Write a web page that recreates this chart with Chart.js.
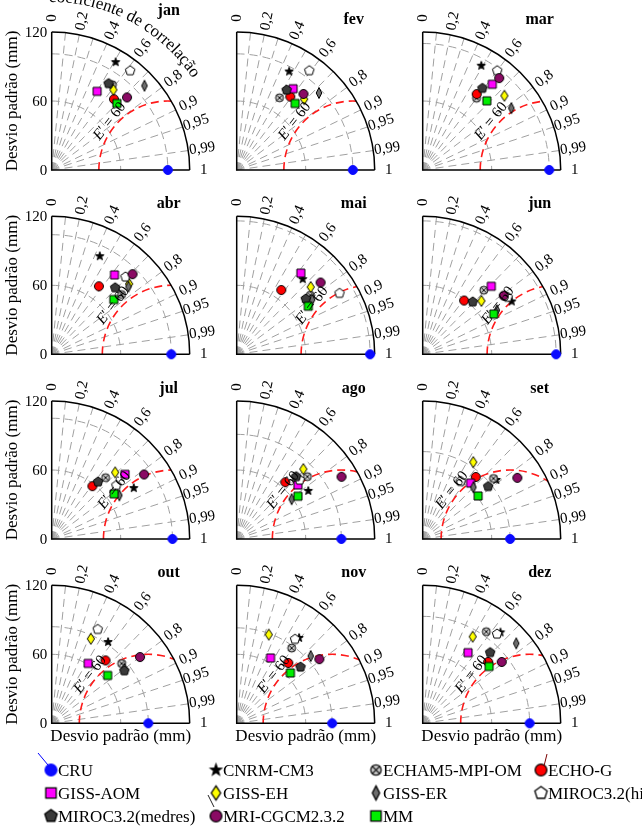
<!DOCTYPE html>
<html><head><meta charset="utf-8">
<script src="https://cdn.jsdelivr.net/npm/chart.js@4"></script>
<style>
html,body{margin:0;padding:0;background:#fff;}
#wrap{position:relative;width:642px;height:829px;overflow:hidden;background:#fff;}
#wrap canvas{position:absolute;left:0;top:0;}
</style></head><body><div id="wrap"></div>
<script>
// ---------- data ----------
const months = ['jan','fev','mar','abr','mai','jun','jul','ago','set','out','nov','dez'];
const stdTickValues = [0, 60, 120];
const stdTickLabels = ['0', '60', '120'];
const corrGridValues = [0.1,0.2,0.3,0.4,0.5,0.6,0.7,0.8,0.9,0.95,0.99];
const corrTickValues = [0,0.2,0.4,0.6,0.8,0.9,0.95,0.99,1];
const corrTickLabels = ['0','0,2','0,4','0,6','0,8','0,9','0,95','0,99','1'];
const stdArcValues = [60];
const rmsContour = 60;
const stdMax = 120;

const cruStd      = [101,101,110,104,116,116,105,91,76,84,83,93];
const cnrmStd     = [109,97,104,95,87,90,84,75,82,86,92,104];
const cnrmCorr    = [0.51,0.47,0.49,0.44,0.66,0.86,0.85,0.83,0.78,0.57,0.59,0.65];
const echamStd    = [91,73,78,80,82,77,71,82,81,80,81,97];
const echamCorr   = [0.58,0.51,0.60,0.76,0.78,0.69,0.66,0.75,0.76,0.76,0.59,0.57];
const echogStd    = [82,79,81,72,68,59,58,65,71,72,69,78];
const echogCorr   = [0.66,0.59,0.58,0.57,0.57,0.61,0.61,0.65,0.65,0.65,0.65,0.73];
const gissAomStd  = [79,86,96,88,90,84,85,71,64,61,64,73];
const gissAomCorr = [0.50,0.57,0.63,0.62,0.62,0.71,0.75,0.75,0.65,0.52,0.46,0.54];
const gissEhStd   = [88,85,96,91,87,69,80,84,80,81,82,87];
const gissEhCorr  = [0.61,0.69,0.74,0.74,0.74,0.74,0.69,0.69,0.55,0.42,0.34,0.50];
const gissErStd   = [109,98,94,89,81,75,70,59,63,79,87,107];
const gissErCorr  = [0.74,0.73,0.82,0.75,0.81,0.86,0.84,0.81,0.70,0.80,0.74,0.76];
const mirocHiStd  = [110,107,108,93,104,89,73,75,60,91,89,101];
const mirocHiCorr = [0.62,0.59,0.60,0.69,0.86,0.83,0.77,0.73,0.55,0.44,0.57,0.64];
const mirocMedStd = [90,82,88,80,77,63,64,75,73,78,74,85];
const mirocMedCorr= [0.55,0.53,0.59,0.69,0.78,0.69,0.63,0.69,0.78,0.81,0.75,0.69];
const mriStd      = [91,88,104,99,96,87,98,106,98,96,91,87];
const mriCorr     = [0.72,0.66,0.64,0.71,0.76,0.81,0.82,0.86,0.84,0.80,0.79,0.79];
const mmStd       = [81,77,82,72,75,71,67,65,61,64,64,76];
const mmCorr      = [0.70,0.66,0.68,0.75,0.83,0.87,0.81,0.82,0.79,0.76,0.73,0.76];
const cruCorr     = [1,1,1,1,1,1,1,1,1,1,1,1];

// ---------- layout / style ----------
const W = 642, H = 829;
const OX = [51.7, 236.7, 422.7], OY = [170, 354.3, 539, 723.3], RP = 138;
const FONT = "'Liberation Serif','DejaVu Serif','Times New Roman',serif";

function makeMarker(kind, fill, stroke, s) {
  s = s || 1;
  const S = Math.ceil(16 * s);
  const c = document.createElement('canvas'); c.width = S; c.height = S;
  const g = c.getContext('2d');
  g.translate(S / 2, S / 2); g.scale(s, s);
  g.lineWidth = 1; g.strokeStyle = stroke; g.fillStyle = fill;
  g.beginPath();
  if (kind === 'circle') g.arc(0, 0, 4.5, 0, 2 * Math.PI);
  else if (kind === 'square') g.rect(-4, -4, 8, 8);
  else if (kind === 'diamond') { g.moveTo(0,-5.5); g.lineTo(3.6,0); g.lineTo(0,5.5); g.lineTo(-3.6,0); g.closePath(); }
  else if (kind === 'thindiamond') { g.moveTo(0,-5.5); g.lineTo(2.8,0); g.lineTo(0,5.5); g.lineTo(-2.8,0); g.closePath(); }
  else if (kind === 'pentagon') {
    for (let i = 0; i < 5; i++) { const a = -Math.PI/2 + i*2*Math.PI/5; const x = 5*Math.cos(a), y = 5*Math.sin(a); i ? g.lineTo(x,y) : g.moveTo(x,y); }
    g.closePath();
  } else if (kind === 'star') {
    for (let i = 0; i < 10; i++) { const a = -Math.PI/2 + i*Math.PI/5; const r = i % 2 ? 1.8 : 4.4; const x = r*Math.cos(a), y = r*Math.sin(a); i ? g.lineTo(x,y) : g.moveTo(x,y); }
    g.closePath();
  } else if (kind === 'otimes') g.arc(0, 0, 4, 0, 2 * Math.PI);
  g.fill(); g.stroke();
  if (kind === 'otimes') {
    g.beginPath(); const d = 2.8;
    g.moveTo(-d,-d); g.lineTo(d,d); g.moveTo(d,-d); g.lineTo(-d,d); g.stroke();
  }
  return c;
}

const models = [
  {name:'CRU', std:cruStd, corr:cruCorr, kind:'circle', fill:'#0a0aff', stroke:'#0a0aff'},
  {name:'CNRM-CM3', std:cnrmStd, corr:cnrmCorr, kind:'star', fill:'#000', stroke:'#000'},
  {name:'ECHAM5-MPI-OM', std:echamStd, corr:echamCorr, kind:'otimes', fill:'#c8c8c8', stroke:'#111'},
  {name:'ECHO-G', std:echogStd, corr:echogCorr, kind:'circle', fill:'#ff0000', stroke:'#000'},
  {name:'GISS-AOM', std:gissAomStd, corr:gissAomCorr, kind:'square', fill:'#ff00ff', stroke:'#000'},
  {name:'GISS-EH', std:gissEhStd, corr:gissEhCorr, kind:'diamond', fill:'#ffff00', stroke:'#000'},
  {name:'GISS-ER', std:gissErStd, corr:gissErCorr, kind:'thindiamond', fill:'#6e6e6e', stroke:'#000'},
  {name:'MIROC3.2(hires)', std:mirocHiStd, corr:mirocHiCorr, kind:'pentagon', fill:'#fff', stroke:'#000'},
  {name:'MIROC3.2(medres)', std:mirocMedStd, corr:mirocMedCorr, kind:'pentagon', fill:'#3a3a3a', stroke:'#000'},
  {name:'MRI-CGCM2.3.2', std:mriStd, corr:mriCorr, kind:'circle', fill:'#8a0a64', stroke:'#000'},
  {name:'MM', std:mmStd, corr:mmCorr, kind:'square', fill:'#00ee00', stroke:'#000'}
];
models.forEach(m => { m.img = makeMarker(m.kind, m.fill, m.stroke, 1); m.limg = makeMarker(m.kind, m.fill, m.stroke, 1.3); });

const legendRows = [
  ['CRU','CNRM-CM3','ECHAM5-MPI-OM','ECHO-G'],
  ['GISS-AOM','GISS-EH','GISS-ER','MIROC3.2(hires)'],
  ['MIROC3.2(medres)','MRI-CGCM2.3.2','MM']
];
const legendColX = [51, 216, 376, 541], legendRowY = [770, 793, 816];

function taylorPlugin(mi) {
  const row = Math.floor(mi / 3), col = mi % 3;
  return {
    id: 'taylor' + mi,
    beforeDatasetsDraw(chart) {
      const ctx = chart.ctx, xs = chart.scales.x, ys = chart.scales.y;
      const x0 = xs.getPixelForValue(0), y0 = ys.getPixelForValue(0);
      const pr = v => xs.getPixelForValue(v) - x0;
      const Rp = pr(stdMax);
      ctx.save();
      ctx.strokeStyle = '#a0a0a0'; ctx.lineWidth = 1; ctx.setLineDash([8, 5]);
      corrGridValues.forEach(c => {
        const t = Math.acos(c);
        ctx.beginPath(); ctx.moveTo(x0, y0); ctx.lineTo(x0 + Rp*Math.cos(t), y0 - Rp*Math.sin(t)); ctx.stroke();
      });
      stdArcValues.concat([cruStd[mi]]).forEach(v => {
        ctx.beginPath(); ctx.arc(x0, y0, pr(v), -Math.PI/2, 0); ctx.stroke();
      });
      const ref = cruStd[mi];
      const xi = (stdMax*stdMax + ref*ref - rmsContour*rmsContour) / (2*ref);
      const yi = Math.sqrt(Math.max(0, stdMax*stdMax - xi*xi));
      const phi = Math.atan2(yi, xi - ref);
      ctx.strokeStyle = '#ff1a1a'; ctx.lineWidth = 1.6; ctx.setLineDash([8, 5]);
      ctx.beginPath(); ctx.arc(x0 + pr(ref), y0, pr(rmsContour), -Math.PI, -phi, false); ctx.stroke();
      ctx.setLineDash([]); ctx.strokeStyle = '#000'; ctx.lineWidth = 1.5;
      ctx.beginPath(); ctx.moveTo(x0, y0 - Rp); ctx.lineTo(x0, y0); ctx.lineTo(x0 + Rp, y0); ctx.stroke();
      ctx.beginPath(); ctx.arc(x0, y0, Rp, -Math.PI/2, 0); ctx.stroke();
      ctx.restore();
    },
    afterDraw(chart) {
      const ctx = chart.ctx, xs = chart.scales.x, ys = chart.scales.y;
      const x0 = xs.getPixelForValue(0), y0 = ys.getPixelForValue(0);
      const pr = v => xs.getPixelForValue(v) - x0;
      const Rp = pr(stdMax);
      ctx.save();
      ctx.fillStyle = '#000';
      ctx.font = '15px ' + FONT; ctx.textAlign = 'center'; ctx.textBaseline = 'middle';
      corrTickValues.forEach((c, i) => {
        const t = Math.acos(c), rr = Rp + 14;
        ctx.save(); ctx.translate(x0 + rr*Math.cos(t), y0 - rr*Math.sin(t)); ctx.rotate(-t);
        ctx.fillText(corrTickLabels[i], 0, 0); ctx.restore();
      });
      if (col === 0) {
        ctx.textAlign = 'right';
        stdTickValues.forEach((v, i) => ctx.fillText(stdTickLabels[i], x0 - 4.5, ys.getPixelForValue(v) + 1));
        ctx.save(); ctx.font = '17px ' + FONT; ctx.textAlign = 'center';
        ctx.translate(12.5, y0 - Rp/2); ctx.rotate(-Math.PI/2);
        ctx.fillText('Desvio padrão (mm)', 0, 0); ctx.restore();
      }
      if (row === 3) {
        ctx.save(); ctx.font = '17px ' + FONT; ctx.textAlign = 'center'; ctx.textBaseline = 'alphabetic';
        ctx.fillText('Desvio padrão (mm)', x0 + Rp/2, y0 + 18); ctx.restore();
      }
      ctx.save(); ctx.font = 'bold 16px ' + FONT; ctx.textAlign = 'center'; ctx.textBaseline = 'alphabetic';
      ctx.fillText(months[mi], x0 + 117, y0 - (mi === 0 ? 155 : 146)); ctx.restore();
      const ref = cruStd[mi], ang = 140 * Math.PI / 180, off = rmsContour + 6;
      const lx = xs.getPixelForValue(ref + off*Math.cos(ang)), ly = ys.getPixelForValue(off*Math.sin(ang));
      ctx.save(); ctx.translate(lx, ly); ctx.rotate(-52 * Math.PI / 180);
      ctx.textBaseline = 'middle'; ctx.textAlign = 'left';
      ctx.font = 'italic 15px ' + FONT; const wE = ctx.measureText('E').width;
      ctx.font = '15px ' + FONT; const rest = '\u2032 = ' + rmsContour; const wR = ctx.measureText(rest).width;
      const st = -(wE + wR) / 2;
      ctx.font = 'italic 15px ' + FONT; ctx.fillText('E', st, 0);
      ctx.font = '15px ' + FONT; ctx.fillText(rest, st + wE, 0);
      ctx.restore();
      if (mi === 0) {
        const txt = 'coeficiente de correlação';
        ctx.save(); ctx.font = '17px ' + FONT; ctx.textAlign = 'left'; ctx.textBaseline = 'alphabetic';
        const rad = Rp + 30, total = ctx.measureText(txt).width;
        let a = 62 * Math.PI / 180 + (total / 2) / rad;
        for (const ch of txt) {
          const w = ctx.measureText(ch).width;
          const am = a - (w / 2) / rad;
          ctx.save(); ctx.translate(x0 + rad*Math.cos(am), y0 - rad*Math.sin(am)); ctx.rotate(Math.PI/2 - am);
          ctx.fillText(ch, -w/2, 0); ctx.restore();
          a -= w / rad;
        }
        ctx.restore();
      }
      if (mi === 11) {
        ctx.save(); ctx.font = '17px ' + FONT; ctx.textAlign = 'left'; ctx.textBaseline = 'alphabetic';
        legendRows.forEach((r, ri) => r.forEach((nm, ci) => {
          const m = models.find(q => q.name === nm);
          const mx = legendColX[ci], my = legendRowY[ri];
          ctx.drawImage(m.limg, mx - m.limg.width/2, my - m.limg.height/2);
          ctx.fillText(nm, mx + 7, my + 6);
        }));
        ctx.lineWidth = 1;
        ctx.strokeStyle = '#0000ff'; ctx.beginPath(); ctx.moveTo(38, 753); ctx.lineTo(48, 765); ctx.stroke();
        ctx.strokeStyle = '#7a0000'; ctx.beginPath(); ctx.moveTo(547, 754); ctx.lineTo(544, 766); ctx.stroke();
        ctx.strokeStyle = '#222'; ctx.beginPath(); ctx.moveTo(208, 795); ctx.lineTo(214, 807); ctx.stroke();
        ctx.restore();
      }
      ctx.restore();
    }
  };
}

const wrap = document.getElementById('wrap');
months.forEach((mname, mi) => {
  const row = Math.floor(mi / 3), col = mi % 3;
  const cv = document.createElement('canvas'); cv.width = W; cv.height = H; wrap.appendChild(cv);
  const ox = OX[col], oy = OY[row];
  const datasets = models.slice().reverse().map(m => ({
    label: m.name,
    data: [{ x: m.std[mi] * m.corr[mi], y: m.std[mi] * Math.sqrt(Math.max(0, 1 - m.corr[mi]*m.corr[mi])) }],
    pointStyle: m.img, pointRadius: 5, clip: false
  }));
  new Chart(cv, {
    type: 'scatter',
    data: { datasets },
    options: {
      responsive: false, animation: false, devicePixelRatio: 1, events: [],
      layout: { padding: { left: ox, top: oy - RP, right: W - ox - RP, bottom: H - oy } },
      scales: {
        x: { type: 'linear', min: 0, max: stdMax, display: false },
        y: { type: 'linear', min: 0, max: stdMax, display: false }
      },
      plugins: { legend: { display: false }, tooltip: { enabled: false } }
    },
    plugins: [taylorPlugin(mi)]
  });
});
</script></body></html>
